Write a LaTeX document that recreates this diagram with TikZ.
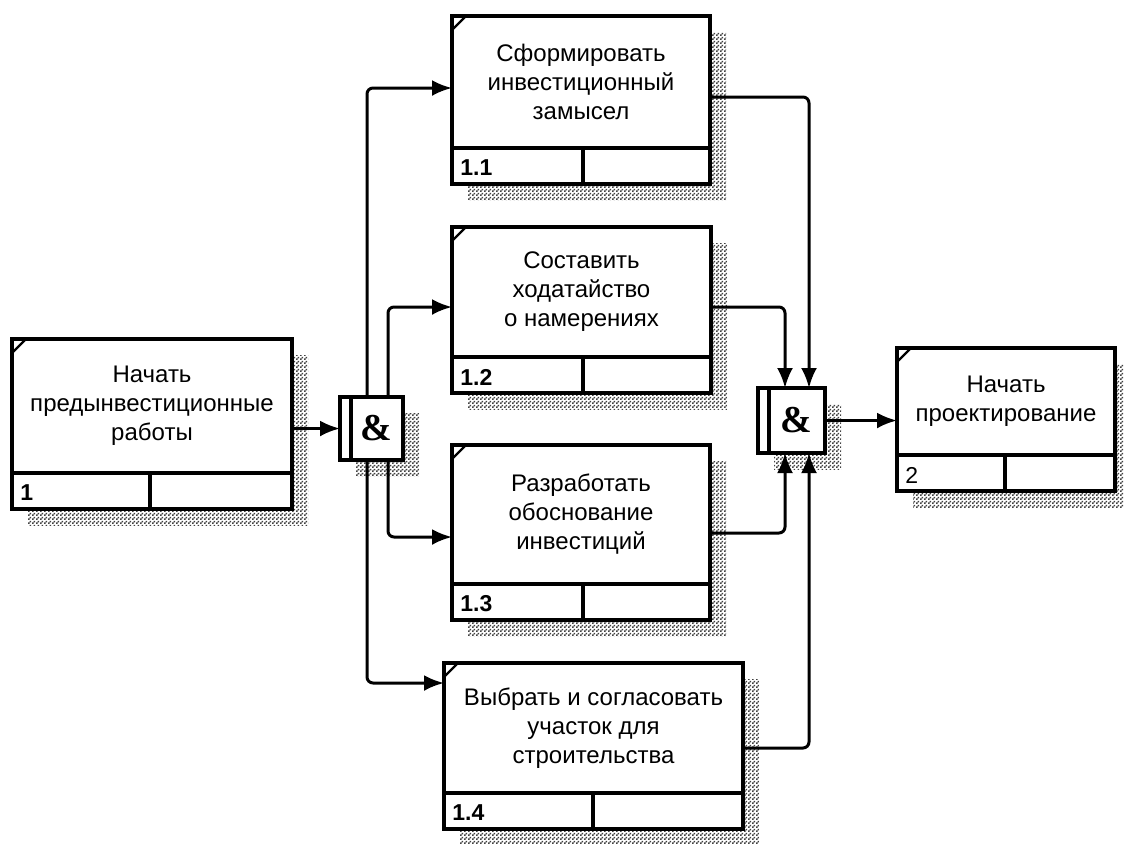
\documentclass[tikz,border=0pt]{standalone}
\usepackage{fontspec}
\setmainfont{Liberation Sans}
\newfontfamily\ampfont{Liberation Serif}
\usepackage{tikz}
\usetikzlibrary{arrows.meta}
\usetikzlibrary{positioning}
\usetikzlibrary{patterns}
\usetikzlibrary{backgrounds}

\pgfdeclarepatternformonly{shadowdots}{\pgfpointorigin}{\pgfqpoint{2pt}{2pt}}{\pgfqpoint{2pt}{2pt}}{%
  \pgfpathrectangle{\pgfpointorigin}{\pgfqpoint{1pt}{1pt}}%
  \pgfpathrectangle{\pgfqpoint{1pt}{1pt}}{\pgfqpoint{1pt}{1pt}}%
  \pgfusepath{fill}}

\begin{document}
\begin{tikzpicture}[x=0.5pt, y=-0.5pt, >={Latex[length=10pt, width=8pt]}]
	\tikzstyle{area} = [draw, fill=white, line width=1.6pt, inner sep=0pt, outer sep=0pt,
	                    align=center, font=\fontsize{12}{14.5}\selectfont]
	\tikzstyle{cell} = [draw, fill=white, line width=1.6pt, inner sep=0pt, outer sep=0pt, minimum height=18pt]
	\tikzstyle{idtxt} = [anchor=west, inner sep=0pt, xshift=4pt, yshift=-1pt, font=\fontsize{11.5}{11.5}\selectfont\bfseries]
	\tikzstyle{junct} = [draw, fill=white, line width=1.6pt, inner sep=0pt, outer sep=0pt,
	                     font=\fontsize{19}{19}\selectfont\ampfont\bfseries]
	\tikzstyle{flow} = [->, line width=1.5pt, rounded corners=3pt]
	\tikzstyle{shadow} = [pattern=shadowdots, pattern color=black!75]

	\useasboundingbox (0,0) rectangle (1124,843);

	% units of work
	\node [area, minimum width=140pt, minimum height=67pt]   (b1)  at (152,406)    {Начать\\предынвестиционные\\работы};
	\node [area, minimum width=129pt, minimum height=66pt]   (b11) at (581,82)     {Сформировать\\инвестиционный\\замысел};
	\node [area, minimum width=129.5pt, minimum height=65pt] (b12) at (581.5,292)  {Составить\\ходатайство\\о намерениях};
	\node [area, minimum width=129pt, minimum height=69.5pt] (b13) at (581,514.5)  {Разработать\\обоснование\\инвестиций};
	\node [area, minimum width=149.5pt, minimum height=65pt] (b14) at (593.5,728)  {Выбрать и согласовать\\участок для\\строительства};
	\node [area, minimum width=109pt, minimum height=53.5pt] (b2)  at (1006,401.5) {Начать\\проектирование};

	% id cells
	\node [cell, anchor=north west, minimum width=69pt]   (b1id)   at (b1.south west)  {};
	\node [cell, anchor=north west, minimum width=71pt]   (b1ref)  at (b1id.north east) {};
	\node [cell, anchor=north west, minimum width=65.5pt] (b11id)  at (b11.south west) {};
	\node [cell, anchor=north west, minimum width=63.5pt] (b11ref) at (b11id.north east) {};
	\node [cell, anchor=north west, minimum width=65.5pt] (b12id)  at (b12.south west) {};
	\node [cell, anchor=north west, minimum width=64pt]   (b12ref) at (b12id.north east) {};
	\node [cell, anchor=north west, minimum width=65.5pt] (b13id)  at (b13.south west) {};
	\node [cell, anchor=north west, minimum width=63.5pt] (b13ref) at (b13id.north east) {};
	\node [cell, anchor=north west, minimum width=74.5pt] (b14id)  at (b14.south west) {};
	\node [cell, anchor=north west, minimum width=75pt]   (b14ref) at (b14id.north east) {};
	\node [cell, anchor=north west, minimum width=54pt]   (b2id)   at (b2.south west)  {};
	\node [cell, anchor=north west, minimum width=55pt]   (b2ref)  at (b2id.north east) {};

	\node [idtxt] (b1no)  at (b1id.west)  {1};
	\node [idtxt] (b11no) at (b11id.west) {1.1};
	\node [idtxt] (b12no) at (b12id.west) {1.2};
	\node [idtxt] (b13no) at (b13id.west) {1.3};
	\node [idtxt] (b14no) at (b14id.west) {1.4};
	\node [idtxt, font=\fontsize{11.5}{11.5}\selectfont] (b2no) at (b2id.west) {2};

	% junctions
	\node [junct, minimum width=31.5pt, minimum height=31.5pt] (j1) at (371.5,428.5) {\hspace{5pt}\&};
	\node [junct, minimum width=33.5pt, minimum height=32.5pt] (j2) at (791.5,420.5) {\hspace{5pt}\&};
	\draw [line width=1.6pt] ([xshift=5.5pt]j1.north west) -- ([xshift=5.5pt]j1.south west);
	\draw [line width=1.6pt] ([xshift=5.5pt]j2.north west) -- ([xshift=5.5pt]j2.south west);

	% corner ticks
	\foreach \b in {b1, b11, b12, b13, b14, b2}
		\draw [line width=1.2pt] ([yshift=-7pt]\b.north west) -- ([xshift=7pt]\b.north west);

	% shadows
	\begin{scope}[on background layer]
		\foreach \b/\r in {b1/b1ref, b11/b11ref, b12/b12ref, b13/b13ref, b14/b14ref, b2/b2ref}
			\fill [shadow] ([shift={(8pt,-8pt)}]\b.north west) rectangle ([shift={(8pt,-8pt)}]\r.south east);
		\fill [shadow] ([shift={(8pt,-8pt)}]j1.north west) rectangle ([shift={(8pt,-8pt)}]j1.south east);
		\fill [shadow] ([shift={(8pt,-8pt)}]j2.north west) rectangle ([shift={(8pt,-8pt)}]j2.south east);
	\end{scope}

	% links
	\draw [flow] (b1.east |- j1.west) -- (j1.west);
	\draw [flow] ([xshift=13.5pt]j1.north west) |- ([yshift=-3pt]b11.west);
	\draw [flow] ([xshift=24pt]j1.north west)   |- ([yshift=-7.5pt]b12.west);
	\draw [flow] ([xshift=24pt]j1.south west)   |- ([yshift=-11.25pt]b13.west);
	\draw [flow] ([xshift=13.5pt]j1.south west) |- ([yshift=22.5pt]b14.west);
	\draw [flow] ([yshift=-7.5pt]b11.east)  -| ([xshift=25.5pt]j2.north west);
	\draw [flow] ([yshift=-7.5pt]b12.east)  -| ([xshift=13.5pt]j2.north west);
	\draw [flow] ([yshift=-9.25pt]b13.east) -| ([xshift=13.5pt]j2.south west);
	\draw [flow] ([yshift=-10pt]b14.east)   -| ([xshift=25.5pt]j2.south west);
	\draw [flow] (j2.east) -- (j2.east -| b2.west);
\end{tikzpicture}
\end{document}
